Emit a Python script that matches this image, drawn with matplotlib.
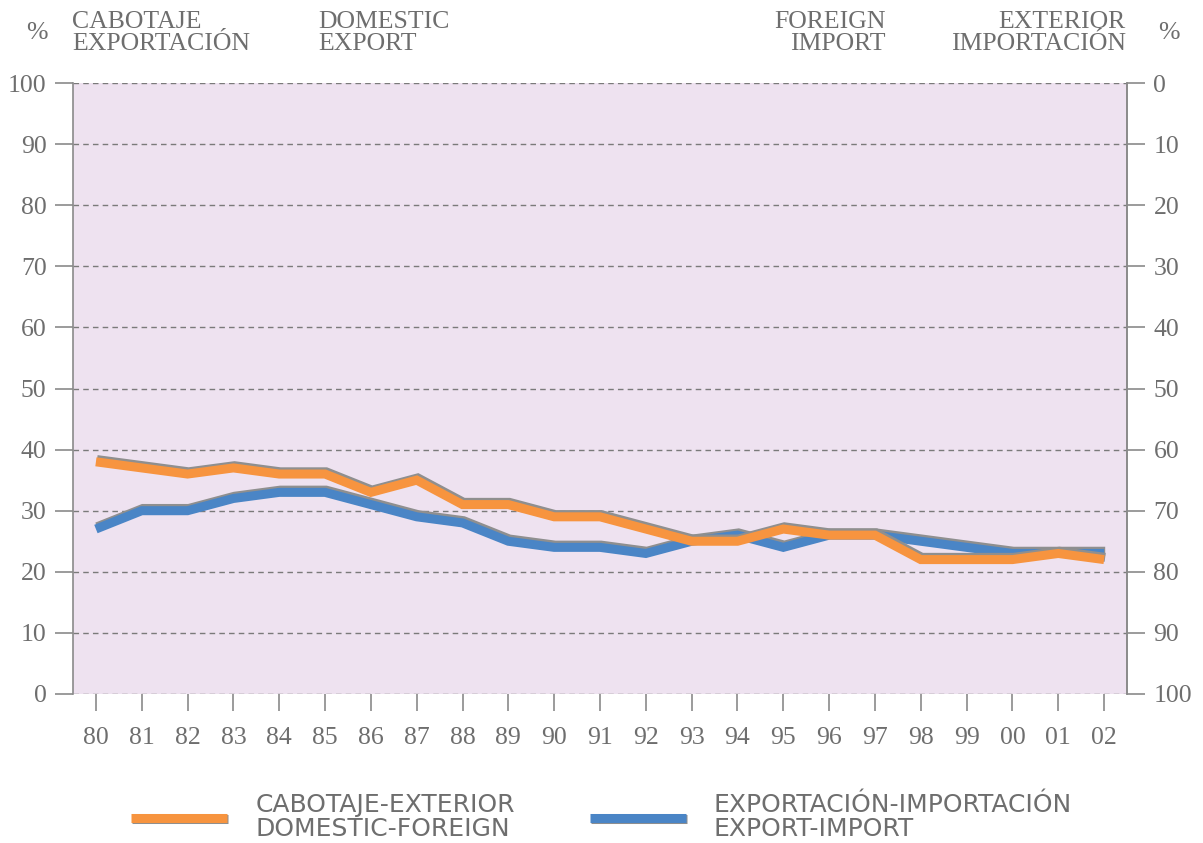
import matplotlib
matplotlib.use("Agg")
import matplotlib.pyplot as plt
import matplotlib.patheffects as pe
import numpy as np

# years shown on the x axis
years = ['80', '81', '82', '83', '84', '85', '86', '87', '88', '89', '90', '91',
         '92', '93', '94', '95', '96', '97', '98', '99', '00', '01', '02']

# CABOTAJE-EXTERIOR / DOMESTIC-FOREIGN (left scale, %)
cabotaje = [38, 37, 36, 37, 36, 36, 33, 35, 31, 31, 29, 29,
            27, 25, 25, 27, 26, 26, 22, 22, 22, 23, 22]
# EXPORTACION-IMPORTACION / EXPORT-IMPORT (left scale, %)
exportacion = [27, 30, 30, 32, 33, 33, 31, 29, 28, 25, 24, 24,
               23, 25, 26, 24, 26, 26, 25, 24, 23, 23, 23]

left_ticks = [0, 10, 20, 30, 40, 50, 60, 70, 80, 90, 100]

W, H = 1203, 843
TXT = '#6e6e6e'
AX = '#8a8a8a'
ORANGE = '#f7943f'
BLUE = '#4a85c6'
BG = '#eee2f0'

fig = plt.figure(figsize=(W / 100, H / 100), dpi=100)
ax = fig.add_axes([73 / W, 1 - 694 / H, (1127 - 73) / W, (694 - 83) / H])
ax.set_facecolor(BG)

x = np.arange(len(years))
shadow = [pe.SimpleLineShadow(offset=(0.8, 1.6), shadow_color='#8f8f8f', alpha=1.0),
          pe.Normal()]
ax.plot(x, exportacion, color=BLUE, lw=6.5, solid_capstyle='butt',
        solid_joinstyle='miter', path_effects=shadow, zorder=3)
ax.plot(x, cabotaje, color=ORANGE, lw=6.5, solid_capstyle='butt',
        solid_joinstyle='miter', path_effects=shadow, zorder=4)

ax.set_xlim(-0.5, len(years) - 0.5)
ax.set_ylim(0, 100)
ax.set_xticks(x)
ax.set_xticklabels(years)
ax.set_yticks(left_ticks)
ax.yaxis.grid(True, color='#7a7a7a', ls=(0, (4, 3)), lw=1)
ax.set_axisbelow(True)

for s in ['top', 'bottom']:
    ax.spines[s].set_visible(False)
for s in ['left', 'right']:
    ax.spines[s].set_color(AX)
    ax.spines[s].set_linewidth(1.2)

ax.tick_params(axis='x', length=12, width=1.2, color=AX, pad=12,
               labelsize=16, labelcolor=TXT)
ax.tick_params(axis='y', length=13, width=1.2, color=AX, pad=6,
               labelsize=16, labelcolor=TXT)

ax2 = ax.twinx()
ax2.set_ylim(100, 0)
ax2.set_yticks(left_ticks)
for s in ['top', 'bottom', 'left']:
    ax2.spines[s].set_visible(False)
ax2.spines['right'].set_color(AX)
ax2.spines['right'].set_linewidth(1.2)
ax2.tick_params(axis='y', length=13, width=1.2, color=AX, pad=6,
                labelsize=16, labelcolor=TXT)

for lab in ax.get_xticklabels() + ax.get_yticklabels() + ax2.get_yticklabels():
    lab.set_family('Liberation Serif')
    lab.set_fontsize(18.5)

# header texts
hfont = dict(family='Liberation Serif', fontsize=18.5, color=TXT, linespacing=0.98)
fig.text(26 / W, 1 - 33 / H, '%', ha='left', va='center', **hfont)
fig.text(72 / W, 1 - 33 / H, 'CABOTAJE\nEXPORTACIÓN', ha='left', va='center', **hfont)
fig.text(318 / W, 1 - 33 / H, 'DOMESTIC\nEXPORT', ha='left', va='center', **hfont)
fig.text(886 / W, 1 - 33 / H, 'FOREIGN\nIMPORT', ha='right', va='center',
         multialignment='right', **hfont)
fig.text(1126 / W, 1 - 33 / H, 'EXTERIOR\nIMPORTACIÓN', ha='right', va='center',
         multialignment='right', **hfont)
fig.text(1180 / W, 1 - 33 / H, '%', ha='right', va='center', **hfont)

# legend
lfont = dict(family=['Liberation Sans Narrow', 'DejaVu Sans'], fontsize=18,
             color=TXT, linespacing=1.05)
leg_items = [(131, 227, ORANGE, 256, 'CABOTAJE-EXTERIOR\nDOMESTIC-FOREIGN'),
             (590, 686, BLUE, 713, 'EXPORTACIÓN-IMPORTACIÓN\nEXPORT-IMPORT')]
for x0, x1, col, tx, label in leg_items:
    fig.add_artist(plt.Line2D([x0 / W, x1 / W], [1 - 818 / H, 1 - 818 / H],
                              color=col, lw=6.5, solid_capstyle='butt',
                              path_effects=[pe.SimpleLineShadow(offset=(1, -1),
                                                                shadow_color='#8f8f8f',
                                                                alpha=1.0),
                                            pe.Normal()]))
    fig.text(tx / W, 1 - 817 / H, label, ha='left', va='center', **lfont)

fig.savefig('out.png', dpi=100)
